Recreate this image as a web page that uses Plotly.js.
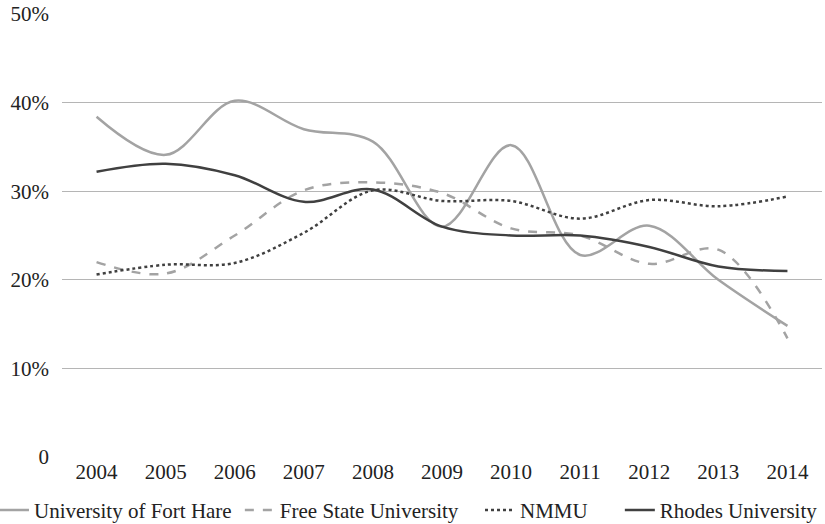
<!DOCTYPE html>
<html><head><meta charset="utf-8">
<script src="https://cdn.plot.ly/plotly-3.0.1.min.js"></script>
<style>body{margin:0;background:#fff}#chart{width:825px;height:524px}</style>
</head><body><div id="chart"></div>
<script>
var years = ["2004","2005","2006","2007","2008","2009","2010","2011","2012","2013","2014"];
var fortHare = [0.384,0.341,0.402,0.370,0.356,0.260,0.352,0.228,0.261,0.200,0.148];
var freeState = [0.220,0.207,0.250,0.301,0.310,0.298,0.258,0.250,0.218,0.234,0.134];
var nmmu = [0.206,0.217,0.219,0.253,0.301,0.289,0.289,0.269,0.290,0.283,0.294];
var rhodes = [0.322,0.331,0.318,0.288,0.302,0.260,0.250,0.250,0.237,0.215,0.210];
var yTickVals = [0,0.1,0.2,0.3,0.4,0.5];
var yTickText = ["0","10%","20%","30%","40%","50%"];

var font = "Liberation Serif, DejaVu Serif, serif";
function tr(name, y, color, dash, w, lg){
  return {x: years, y: y, name: name, type: "scatter", mode: "lines", legend: lg,
    line: {color: color, width: w, dash: dash, shape: "spline", smoothing: 1}};
}
var data = [
  tr("University of Fort Hare", fortHare, "#a3a3a3", "solid", 2.5, "legend"),
  tr("Free State University", freeState, "#a3a3a3", "dash", 2.5, "legend2"),
  tr("NMMU", nmmu, "#404040", "dot", 2.5, "legend3"),
  tr("Rhodes University", rhodes, "#404040", "solid", 2.5, "legend4")
];
function lg(x){
  return {orientation: "h", x: x, xanchor: "left", y: -0.074, yanchor: "top",
    font: {family: font, size: 21, color: "#222"}, itemwidth: 30, bgcolor: "rgba(0,0,0,0)"};
}
var layout = {
  width: 825, height: 524,
  margin: {l: 62, r: 3, t: 14, b: 67, autoexpand: false},
  paper_bgcolor: "#fff", plot_bgcolor: "#fff",
  font: {family: font, size: 21, color: "#222"},
  showlegend: true,
  legend: lg(-0.0895), legend2: lg(0.234), legend3: lg(0.55), legend4: lg(0.734),
  xaxis: {type: "category", range: [-0.5, 10.5], showgrid: false, zeroline: false, showline: false,
    ticks: "", ticklabelstandoff: 0, tickfont: {family: font, size: 21, color: "#222"}},
  yaxis: {range: [0, 0.5], tickvals: yTickVals, ticktext: yTickText,
    showgrid: true, gridcolor: "#b5b5b5", gridwidth: 1, zeroline: false, showline: false,
    ticks: "", ticklen: 0, ticklabelstandoff: 12, tickfont: {family: font, size: 21, color: "#222"}}
};
Plotly.newPlot("chart", data, layout, {displayModeBar: false, staticPlot: true});
</script></body></html>
